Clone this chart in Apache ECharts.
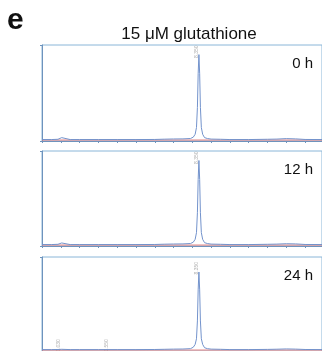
<!DOCTYPE html>
<html><head><meta charset="utf-8">
<script src="https://cdn.jsdelivr.net/npm/echarts@6/dist/echarts.min.js"></script>
<style>html,body{margin:0;padding:0;background:#fff}#c{width:322px;height:351px}</style>
</head><body><div id="c"></div>
<script>
// retention time (min)
const times = [0, 0.5, 0.85, 0.95, 1.05, 1.15, 1.5, 2, 3, 4, 5, 6, 6.5, 7, 7.5, 7.9, 8.05, 8.15, 8.22, 8.27, 8.31, 8.35, 8.39, 8.43, 8.48, 8.55, 8.65, 8.8, 9.0, 9.5, 10, 11, 12, 12.5, 13, 13.5, 14, 14.9];
// blue chromatogram traces (relative response)
const trace0h  = [1.5,1.5,1.8,3.5,3.5,1.8,1.5,1.5,1.5,1.5,1.5,1.6,1.9,2.1,2.2,2.6,4,7,14,35,70,90,70,35,14,7,3.5,2.6,2.0,1.8,1.5,1.5,1.8,2.0,2.5,2.2,1.6,1.5];
const trace12h = [1.5,1.5,1.8,3.2,3.2,1.8,1.5,1.5,1.5,1.5,1.5,1.6,1.9,2.1,2.2,2.6,4,7,14,35,70,90,70,35,14,7,3.5,2.6,2.0,1.8,1.5,1.5,1.8,2.0,2.4,2.2,1.6,1.5];
const trace24h = [1.5,1.5,1.6,1.8,1.8,1.6,1.5,1.5,1.5,1.5,1.5,1.6,1.8,2.0,2.1,2.5,4,7,13,32,65,84,65,32,13,7,3.5,2.5,2.0,1.8,1.5,1.5,1.7,1.9,2.2,2.0,1.6,1.5];
// red baseline trace
const baseTimes = [0, 14.9];
const baseline = [1, 1];
// panel labels
const panelLabels = ["0 h", "12 h", "24 h"];
// peak annotation labels [time, value, text]
const peakLabels0 = [[8.35, 93, "8.350"]];
const peakLabels1 = [[8.35, 93, "8.350"]];
const peakLabels2 = [[1.0, 6, "1.030"], [3.55, 6, "3.550"], [8.35, 88, "8.350"]];

const traces = [trace0h, trace12h, trace24h];
const peaks = [peakLabels0, peakLabels1, peakLabels2];
const tops = [45, 151, 257];
const heights = [96, 95, 95];
const frame = '#8ab6d8', axisC = '#6e93bd', blue = '#7393cc', red = '#e07a7a';

const grid = [], xAxis = [], yAxis = [], series = [];
const title = [
  {text: 'e', left: 7, top: 6, padding: 0, textStyle: {fontFamily: 'Liberation Sans', fontWeight: 'bold', fontSize: 30, color: '#111'}},
  {text: '15 μM glutathione', left: 189, textAlign: 'center', top: 26, padding: 0, textStyle: {fontFamily: 'Liberation Sans', fontWeight: 'normal', fontSize: 17, color: '#111'}}
];
for (let i = 0; i < 3; i++) {
  grid.push({left: 42, right: 0, top: tops[i], height: heights[i], show: true, borderColor: frame, borderWidth: 1, backgroundColor: 'transparent'});
  xAxis.push({type: 'value', gridIndex: i, min: 0, max: 14.9, interval: 1,
    axisLine: {show: true, onZero: false, lineStyle: {color: axisC, width: 1}},
    axisTick: {show: true, length: 2, lineStyle: {color: axisC}},
    axisLabel: {show: false}, splitLine: {show: false}});
  yAxis.push({type: 'value', gridIndex: i, min: 0, max: 100, interval: 100,
    axisLine: {show: true, lineStyle: {color: axisC, width: 1}},
    axisTick: {show: true, length: 2, lineStyle: {color: axisC}},
    axisLabel: {show: false}, splitLine: {show: false}});
  series.push({type: 'line', xAxisIndex: i, yAxisIndex: i, symbol: 'none', silent: true,
    data: baseTimes.map((t, k) => [t, baseline[k]]), lineStyle: {color: red, width: 1}, z: 3});
  series.push({type: 'line', xAxisIndex: i, yAxisIndex: i, symbol: 'none', silent: true,
    data: times.map((t, k) => [t, traces[i][k]]), lineStyle: {color: blue, width: 1}, z: 4});
  series.push({type: 'scatter', xAxisIndex: i, yAxisIndex: i, symbolSize: 0, silent: true,
    data: peaks[i].map(p => ({value: [p[0], p[1]], name: p[2]})),
    label: {show: true, position: 'top', rotate: 90, fontSize: 5, color: '#999', formatter: p => p.name, distance: 0}});
  title.push({text: panelLabels[i], right: 9, top: tops[i] + 11, padding: 0, textStyle: {fontFamily: 'Liberation Sans', fontWeight: 'normal', fontSize: 15, color: '#111'}});
}
const chart = echarts.init(document.getElementById('c'));
chart.setOption({animation: false, title, grid, xAxis, yAxis, series});
</script></body></html>
